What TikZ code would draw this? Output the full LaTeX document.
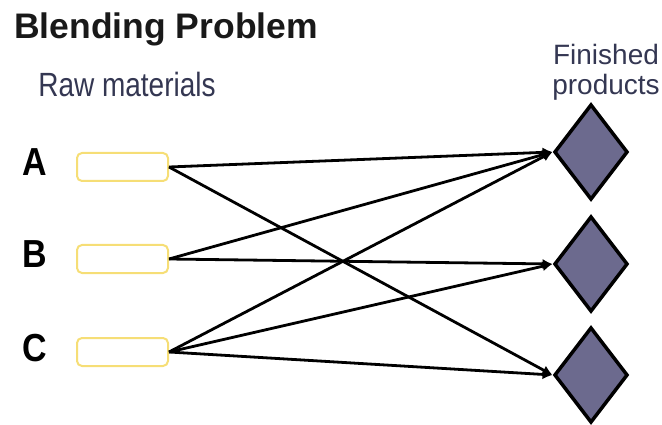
\documentclass[tikz,border=0pt]{standalone}
\usepackage{graphicx}
\usepackage{fontspec}
\setmainfont{Liberation Sans}
\usetikzlibrary{shapes.geometric,arrows.meta}
\definecolor{rawedge}{RGB}{246,222,118}
\definecolor{prodfill}{RGB}{108,106,142}
\definecolor{captext}{RGB}{52,55,82}

\begin{document}
\begin{tikzpicture}[x=1pt,y=-1pt,
  raw/.style={draw=rawedge,line width=2pt,rounded corners=5pt,fill=white,
    minimum width=91pt,minimum height=28pt,inner sep=0pt},
  prod/.style={diamond,draw=black,line width=3.5pt,fill=prodfill,
    minimum width=73.5pt,minimum height=95.5pt,inner sep=0pt},
  flow/.style={line width=2.8pt,-{Latex[length=10pt,width=10pt]}},
  tag/.style={font=\fontsize{34}{34}\selectfont\bfseries,inner sep=0pt,anchor=base},
  captxt/.style={font=\fontsize{28}{28}\selectfont,text=captext,inner sep=0pt,anchor=base}]
\useasboundingbox (0,0) rectangle (662,425);
% Parameters
\def\xraw{122.5}; \def\xprod{591}; \def\xtag{34.5};
\def\yA{167}; \def\yB{259}; \def\yC{352};
\def\yP{152}; \def\yQ{264}; \def\yR{375};

% Titles
\node[font=\fontsize{35.5}{35.5}\selectfont\bfseries,text=black!90,inner sep=0pt,anchor=base west] (title) at (14,39) {Blending Problem};
\node[captxt] (rawtxt) at (127,97) {\scalebox{1}[1.2]{Raw materials}};
\node[captxt] (fintxt) at (606,65) {Finished};
\node[captxt] (prodtxt) at (606,95) {products};

% Raw materials
\node[raw] (A) at (\xraw,\yA) {};
\node[raw] (B) at (\xraw,\yB) {};
\node[raw] (C) at (\xraw,\yC) {};
\node[tag] (tagA) at (\xtag,\yA+9) {\scalebox{1}[1.15]{A}};
\node[tag] (tagB) at (\xtag,\yB+9) {\scalebox{1}[1.15]{B}};
\node[tag] (tagC) at (\xtag,\yC+9) {\scalebox{1}[1.15]{C}};

% Finished products
\node[prod] (P) at (\xprod,\yP) {};
\node[prod] (Q) at (\xprod,\yQ) {};
\node[prod] (R) at (\xprod,\yR) {};

% Flows
\draw[flow] (A.east) -- (P.west);
\draw[flow] (A.east) -- (R.west);
\draw[flow] (B.east) -- (P.west);
\draw[flow] (B.east) -- (Q.west);
\draw[flow] (C.east) -- (P.west);
\draw[flow] (C.east) -- (Q.west);
\draw[flow] (C.east) -- (R.west);
\end{tikzpicture}
\end{document}
